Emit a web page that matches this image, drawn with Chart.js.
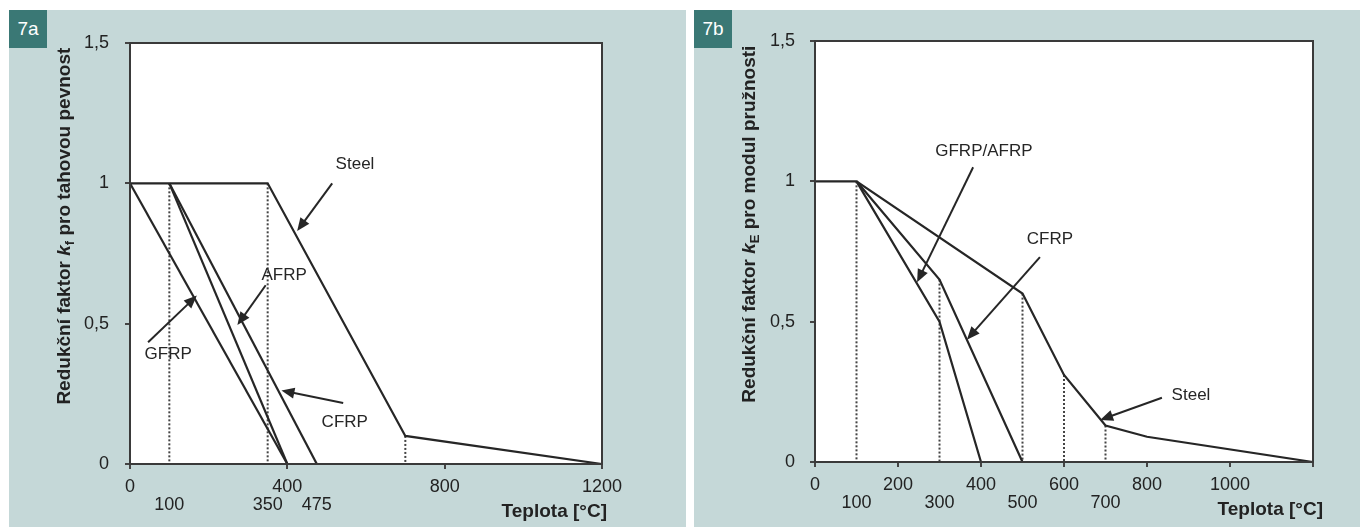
<!DOCTYPE html>
<html>
<head>
<meta charset="utf-8">
<script src="https://cdn.jsdelivr.net/npm/chart.js@4.4.0/dist/chart.umd.min.js"></script>
<style>
body { margin:0; background:#fff; width:1360px; height:531px; position:relative; overflow:hidden; font-family:"Liberation Sans", Arial, sans-serif; }
.panel { position:absolute; top:10px; height:517px; background:#c5d8d8; }
.tag { position:absolute; left:0; top:0; width:38px; height:38px; background:#3a7875; color:#fff; font-size:19px; line-height:38px; text-align:center; z-index:2; }
</style>
</head>
<body>
<div class="panel" id="panelA" style="left:9px; width:677px;">
  <div class="tag">7a</div>
  <canvas id="chartA"></canvas>
</div>
<div class="panel" id="panelB" style="left:694px; width:666px;">
  <div class="tag">7b</div>
  <canvas id="chartB"></canvas>
</div>
<script>
//Data 7a - tensile strength reduction
var steelA_x = [0, 350, 700, 1200];
var steelA_y = [1, 1, 0.1, 0];
var gfrpA_x = [0, 400];
var gfrpA_y = [1, 0];
var afrpA_x = [100, 400];
var afrpA_y = [1, 0];
var cfrpA_x = [100, 475];
var cfrpA_y = [1, 0];
var dropA_x = [100, 350, 700];
var dropA_y = [1, 1, 0.1];
var xMainA = [0, 400, 800, 1200];
var xSubA = [100, 350, 475];

//Data 7b - modulus reduction
var steelB_x = [0, 100, 500, 600, 700, 800, 1200];
var steelB_y = [1, 1, 0.6, 0.31, 0.13, 0.09, 0];
var gfrpB_x = [100, 300, 400];
var gfrpB_y = [1, 0.5, 0];
var cfrpB_x = [100, 300, 500];
var cfrpB_y = [1, 0.65, 0];
var dropB_x = [100, 300, 500, 600, 700];
var dropB_y = [1, 0.65, 0.6, 0.31, 0.13];
var xMainB = [0, 200, 400, 600, 800, 1000, 1200];
var xSubB = [100, 300, 500, 700];

var yTicks = [0, 0.5, 1, 1.5];

//annotations: label text, label pos, arrow from, arrow tip (data units)
var notesA = [
    ["Steel", 572, 1.068, 514, 1.0, 425, 0.83],
    ["AFRP", 392, 0.673, 345, 0.637, 273, 0.495],
    ["GFRP", 97, 0.391, 46, 0.434, 170, 0.60],
    ["CFRP", 546, 0.149, 542, 0.217, 385, 0.262]
];
var notesB = [
    ["GFRP/AFRP", 407, 1.107, 381, 1.05, 246, 0.64],
    ["CFRP", 566, 0.793, 542, 0.73, 366, 0.436],
    ["Steel", 906, 0.239, 836, 0.229, 687, 0.15]
];

var FONT = '"Liberation Sans", Arial, sans-serif';
var INK = '#262626';

function pts(xs, ys) {
    var out = [];
    for (var i = 0; i < xs.length; i++) {
        out.push({x: xs[i], y: ys[i]});
    }
    return out;
}

function solid(xs, ys) {
    return { data: pts(xs, ys), showLine: true, borderColor: INK, borderWidth: 2.2, pointRadius: 0, fill: false };
}

function drops(xs, ys) {
    var sets = [];
    for (var i = 0; i < xs.length; i++) {
        sets.push({ data: pts([xs[i], xs[i]], [ys[i], 0]), showLine: true, borderColor: '#444',
            borderWidth: 2, borderDash: [2, 2], pointRadius: 0, fill: false });
    }
    return sets;
}

var extras = {
    id: 'extras',
    beforeDraw: function (chart) {
        var ca = chart.chartArea, c = chart.ctx;
        c.save();
        c.fillStyle = '#fff';
        c.fillRect(ca.left, ca.top, ca.right - ca.left, ca.bottom - ca.top);
        c.restore();
    },
    afterDraw: function (chart) {
        var o = chart.options.plugins.extras;
        var ca = chart.chartArea, c = chart.ctx;
        var xs = chart.scales.x, ys = chart.scales.y;
        c.save();
        //frame
        c.strokeStyle = '#3a3a3a';
        c.lineWidth = 2;
        c.strokeRect(ca.left, ca.top, ca.right - ca.left, ca.bottom - ca.top);

        //arrows + labels
        c.fillStyle = INK;
        c.strokeStyle = INK;
        c.font = '17px ' + FONT;
        c.textAlign = 'center';
        c.textBaseline = 'middle';
        o.notes.forEach(function (n) {
            c.fillText(n[0], xs.getPixelForValue(n[1]), ys.getPixelForValue(n[2]));
            var x1 = xs.getPixelForValue(n[3]), y1 = ys.getPixelForValue(n[4]);
            var x2 = xs.getPixelForValue(n[5]), y2 = ys.getPixelForValue(n[6]);
            var a = Math.atan2(y2 - y1, x2 - x1);
            c.lineWidth = 2;
            c.beginPath();
            c.moveTo(x1, y1);
            c.lineTo(x2 - Math.cos(a) * 8, y2 - Math.sin(a) * 8);
            c.stroke();
            c.beginPath();
            c.moveTo(x2, y2);
            c.lineTo(x2 - Math.cos(a) * 13 + Math.sin(a) * 5.5, y2 - Math.sin(a) * 13 - Math.cos(a) * 5.5);
            c.lineTo(x2 - Math.cos(a) * 13 - Math.sin(a) * 5.5, y2 - Math.sin(a) * 13 + Math.cos(a) * 5.5);
            c.closePath();
            c.fill();
        });

        //x title
        c.font = 'bold 19px ' + FONT;
        c.fillStyle = '#222';
        c.textAlign = 'right';
        c.fillText('Teplota [°C]', ca.right + o.titleShift, ca.bottom + 48);

        //y title, rotated, with italic k and subscript
        var parts = [
            ['Redukční faktor ', 'bold 19px ' + FONT, 0],
            ['k', 'italic bold 19px ' + FONT, 0],
            [o.sub, 'bold 13px ' + FONT, 5],
            [' pro ' + o.yRest, 'bold 19px ' + FONT, 0]
        ];
        var total = 0;
        parts.forEach(function (p) { c.font = p[1]; total += c.measureText(p[0]).width; });
        c.translate(ca.left - 65, ca.top + (ca.bottom - ca.top) * 0.435);
        c.rotate(-Math.PI / 2);
        c.textAlign = 'left';
        var px = -total / 2;
        parts.forEach(function (p) {
            c.font = p[1];
            c.fillText(p[0], px, p[2]);
            px += c.measureText(p[0]).width;
        });
        c.restore();
    }
};

function makeChart(id, datasets, main, sub, cfg) {
    var all = main.concat(sub).sort(function (a, b) { return a - b; });
    return new Chart(document.getElementById(id), {
        type: 'scatter',
        data: { datasets: datasets },
        plugins: [extras],
        options: {
            responsive: true,
            maintainAspectRatio: false,
            animation: false,
            layout: { padding: { left: 0, right: cfg.right, top: cfg.top, bottom: 0 } },
            plugins: {
                legend: { display: false },
                tooltip: { enabled: false },
                extras: { notes: cfg.notes, sub: cfg.sub, yRest: cfg.yRest, titleShift: cfg.titleShift }
            },
            scales: {
                x: {
                    type: 'linear', min: 0, max: 1200,
                    afterFit: function (s) { s.height = cfg.xh; },
                    afterBuildTicks: function (s) { s.ticks = all.map(function (v) { return {value: v}; }); },
                    border: { display: false },
                    grid: {
                        drawOnChartArea: false, tickLength: 5,
                        tickColor: function (ctx) {
                            return main.indexOf(ctx.tick.value) >= 0 ? '#444' : 'rgba(0,0,0,0)';
                        },
                        lineWidth: 2
                    },
                    ticks: {
                        autoSkip: false, maxRotation: 0, padding: 9, color: '#222',
                        font: { family: FONT, size: 18, lineHeight: 1.0 },
                        callback: function (v) {
                            if (cfg.hide.indexOf(v) >= 0) return ['', ''];
                            return main.indexOf(v) >= 0 ? [String(v), ''] : ['', String(v)];
                        }
                    }
                },
                y: {
                    min: 0, max: 1.5,
                    afterFit: function (s) { s.width = 121; },
                    afterBuildTicks: function (s) { s.ticks = yTicks.map(function (v) { return {value: v}; }); },
                    border: { display: false },
                    grid: { drawOnChartArea: false, tickLength: 5, tickColor: '#444', lineWidth: 2 },
                    ticks: {
                        padding: cfg.ypad, color: '#222',
                        font: { family: FONT, size: 18 },
                        callback: function (v) { return String(v).replace('.', ','); }
                    }
                }
            }
        }
    });
}

window.onload = function () {
    makeChart('chartA',
        [solid(steelA_x, steelA_y), solid(gfrpA_x, gfrpA_y), solid(afrpA_x, afrpA_y), solid(cfrpA_x, cfrpA_y)]
            .concat(drops(dropA_x, dropA_y)),
        xMainA, xSubA,
        { right: 84, top: 33, xh: 63, ypad: 16, notes: notesA, sub: 'f', yRest: 'tahovou pevnost', titleShift: 5, hide: [] });
    makeChart('chartB',
        [solid(steelB_x, steelB_y), solid(gfrpB_x, gfrpB_y), solid(cfrpB_x, cfrpB_y)]
            .concat(drops(dropB_x, dropB_y)),
        xMainB, xSubB,
        { right: 47, top: 31, xh: 65, ypad: 15, notes: notesB, sub: 'E', yRest: 'modul pružnosti', titleShift: 10, hide: [1200] });
};
</script>
</body>
</html>
